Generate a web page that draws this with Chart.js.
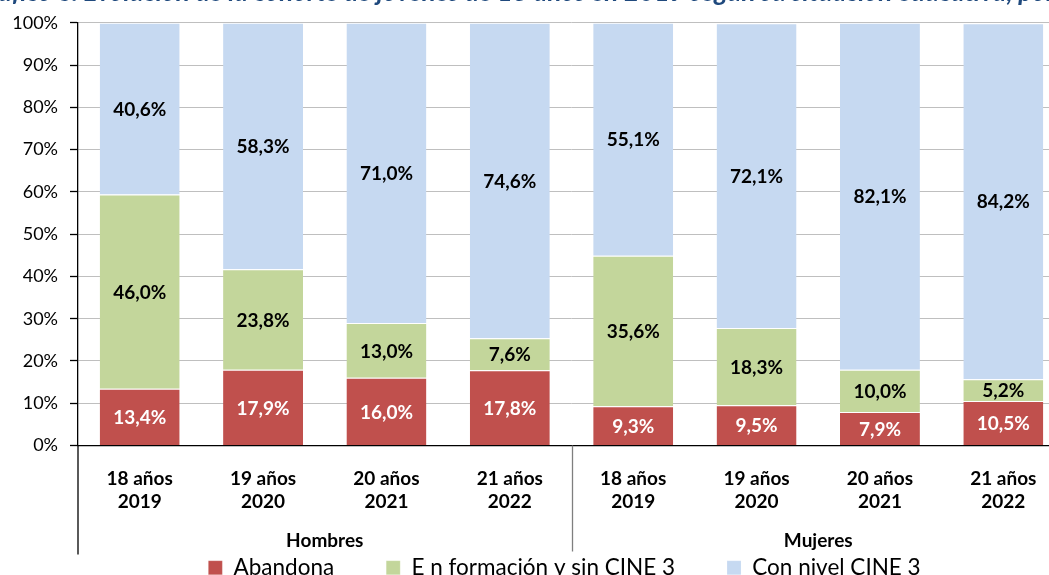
<!DOCTYPE html>
<html><head><meta charset="utf-8">
<script src="https://cdn.jsdelivr.net/npm/chart.js@4.4.1/dist/chart.umd.min.js"></script>
<style>
html,body{margin:0;padding:0;background:#fff;overflow:hidden;width:1049px;height:575px;}
#wrap{position:relative;width:1116px;height:635px;}
#title{position:absolute;left:-28px;top:-22px;white-space:nowrap;font:italic bold 26.2px/26px Lato;color:#1F497D;}
canvas{position:absolute;left:0;top:0}
</style></head><body>
<div id="wrap"><canvas id="c" width="1116" height="635" style="width:1116px;height:635px"></canvas>
<div id="title">Gráfico 6. Evolución de la cohorte de jóvenes de 18 años en 2019 según su situación educativa, por sexo</div></div>
<script>
const categories = [['18 años','2019'],['19 años','2020'],['20 años','2021'],['21 años','2022'],
                    ['18 años','2019'],['19 años','2020'],['20 años','2021'],['21 años','2022']];
const groups = ['Hombres','Mujeres'];
const seriesNames = ['Abandona','E n formación y sin CINE 3','Con nivel CINE 3'];
const abandona    = [13.4,17.9,16.0,17.8, 9.3, 9.5, 7.9,10.5];
const enFormacion = [46.0,23.8,13.0, 7.6,35.6,18.3,10.0, 5.2];
const conCine3    = [40.6,58.3,71.0,74.6,55.1,72.1,82.1,84.2];
const yMin = 0, yMax = 100, yStep = 10;
const colors = ['#C0504D','#C3D69B','#C6D9F1'];

const FONT = 'Lato';
const LEGEND_PAD = 52;

const segLabels = {
  id:'segLabels',
  afterDatasetsDraw(chart){
    const ctx = chart.ctx;
    ctx.save();
    ctx.font = 'bold 19px ' + FONT;
    ctx.textAlign = 'center';
    ctx.textBaseline = 'middle';
    chart.data.datasets.forEach((ds,i)=>{
      const meta = chart.getDatasetMeta(i);
      meta.data.forEach((bar,j)=>{
        const v = ds.data[j];
        ctx.fillStyle = i===0 ? '#FFFFFF' : '#000000';
        ctx.fillText(v.toFixed(1).replace('.',',') + '%', bar.x, (bar.y+bar.base)/2 + 1);
      });
    });
    ctx.restore();
  }
};

const groupAxis = {
  id:'groupAxis',
  beforeDraw(chart){
    // pull the wide-spaced legend row up under the group labels and nudge it right
    const lg = chart.legend, ca = chart.chartArea;
    if (lg) {
      const h = lg.bottom - lg.top;
      lg.top = ca.bottom + 122 - LEGEND_PAD - 11;
      lg.bottom = lg.top + h;
      lg.left += 32; lg.right += 32;
    }
  },
  afterDraw(chart){
    const ctx = chart.ctx, xs = chart.scales.x, ca = chart.chartArea;
    const n = categories.length, per = n / groups.length;
    const step = xs.getPixelForValue(1) - xs.getPixelForValue(0);
    ctx.save();
    ctx.strokeStyle = '#000';
    ctx.lineWidth = 1.3;
    ctx.beginPath();
    ctx.moveTo(ca.left, ca.bottom); ctx.lineTo(ca.left, ca.bottom + 109);
    ctx.stroke();
    ctx.strokeStyle = '#7f7f7f';
    for (let g=1; g<groups.length; g++){
      const x = Math.round(xs.getPixelForValue(g*per - 1) + step/2) + 0.5;
      ctx.beginPath();
      ctx.moveTo(x, ca.bottom); ctx.lineTo(x, ca.bottom + 106);
      ctx.stroke();
    }
    ctx.font = 'bold 19px ' + FONT;
    ctx.fillStyle = '#000';
    ctx.textAlign = 'center';
    ctx.textBaseline = 'middle';
    groups.forEach((g,gi)=>{
      const x0 = xs.getPixelForValue(gi*per), x1 = xs.getPixelForValue(gi*per + per - 1);
      ctx.fillText(g, (x0+x1)/2, ca.bottom + 95);
    });
    ctx.restore();
  }
};

new Chart(document.getElementById('c'), {
  type:'bar',
  data:{
    labels: categories,
    datasets:[
      {label: seriesNames[0], data: abandona,    backgroundColor: colors[0]},
      {label: seriesNames[1], data: enFormacion, backgroundColor: colors[1]},
      {label: seriesNames[2], data: conCine3,    backgroundColor: colors[2]}
    ].map(d=>Object.assign(d,{barPercentage:0.648, categoryPercentage:1, borderWidth:{top:1}, borderColor:'rgba(255,255,255,0.7)', borderSkipped:'bottom'}))
  },
  options:{
    responsive:false,
    animation:false,
    devicePixelRatio:1,
    layout:{padding:{top:18, right:51, left:0, bottom:0}},
    plugins:{
      legend:{
        position:'bottom',
        labels:{font:{family:FONT, size:22.5}, color:'#000', boxWidth:14, boxHeight:14, padding:LEGEND_PAD, useBorderRadius:false}
      },
      tooltip:{enabled:false},
      title:{display:false}
    },
    scales:{
      x:{
        stacked:true,
        grid:{display:false},
        border:{display:true, color:'#000', width:1.3},
        ticks:{font:{family:FONT, size:19, weight:'bold'}, color:'#000', padding:14, maxRotation:0, autoSkip:false},
        afterFit(s){ s.height = 105; }
      },
      y:{
        stacked:true, min:yMin, max:yMax,
        grid:{color:'#BFBFBF', lineWidth:1, borderDash:[3,2], tickColor:'#000', tickLength:8, tickBorderDash:[], tickWidth:1.3},
        border:{display:true, color:'#000', width:1.3},
        ticks:{stepSize:yStep, font:{family:FONT, size:18}, color:'#000', padding:12, callback:v=>v+'%'},
        afterFit(s){ s.width = 78; }
      }
    }
  },
  plugins:[segLabels, groupAxis]
});
</script>
</body></html>
